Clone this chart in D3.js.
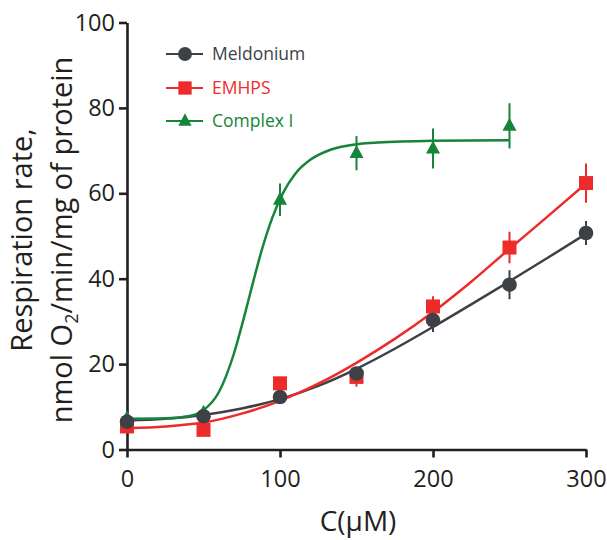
<!DOCTYPE html>
<html><head><meta charset="utf-8">
<script src="https://cdn.jsdelivr.net/npm/d3@7"></script>
<style>body{margin:0;background:#fff}</style>
</head><body><svg id="c" width="607" height="540"></svg>
<script>
const xTicks = [0, 100, 200, 300];
const yTicks = [0, 20, 40, 60, 80, 100];
const seriesNames = ["Meldonium", "EMHPS", "Complex I"];
const colors = ["#3d4145", "#ee2b2b", "#17843b"];

const concX = [0, 50, 100, 150, 200, 250, 300];
const meldoniumY = [6.5, 7.8, 12.3, 17.8, 30.3, 38.6, 50.7];
const meldoniumErr = [0.8, 0.8, 1.0, 1.5, 2.8, 3.4, 2.8];
const emhpsY = [5.4, 4.6, 15.5, 17.0, 33.5, 47.3, 62.4];
const emhpsErr = [0.8, 0.8, 1.0, 2.3, 2.4, 3.7, 4.6];
const complexX = [0, 50, 100, 150, 200, 250];
const complexY = [7.3, 8.6, 58.5, 69.4, 70.5, 75.8];
const complexErr = [0.8, 0.8, 3.8, 4.0, 4.7, 5.3];

// fitted curves
const meldFitX = [0, 25, 50, 75, 100, 125, 150, 175, 200, 225, 250, 275, 300];
const meldFitY = [6.8, 7.2, 8.1, 9.6, 11.8, 14.9, 18.9, 23.6, 28.7, 34.0, 39.4, 44.9, 50.5];
const emFitX = [0, 25, 50, 75, 100, 125, 150, 175, 200, 225, 250, 275, 300];
const emFitY = [5.0, 5.4, 6.3, 8.4, 11.4, 15.4, 20.3, 25.9, 32.2, 39.3, 47.0, 54.6, 62.3];
const cxFitX = [0, 25, 40, 50, 60, 70, 76, 82, 88, 95, 102, 110, 120, 133, 150, 175, 200, 250];
const cxFitY = [7.2, 7.3, 7.8, 9.2, 13.4, 22.6, 30.3, 38.6, 46.6, 54.3, 60.1, 64.6, 67.9, 70.2, 71.5, 72.1, 72.3, 72.45];

const svg = d3.select("#c");
const x = d3.scaleLinear().domain([0, 300]).range([127, 586]);
const y = d3.scaleLinear().domain([0, 100]).range([449.5, 22.5]);
const font = "'Open Sans', sans-serif";
const axisColor = "#231f20";

const xa = svg.append("g").attr("transform", "translate(0,449.5)")
  .call(d3.axisBottom(x).tickValues(xTicks).tickSize(8).tickSizeOuter(0).tickPadding(13));
const ya = svg.append("g").attr("transform", "translate(127,0)")
  .call(d3.axisLeft(y).tickValues(yTicks).tickSize(8).tickSizeOuter(0).tickPadding(4));
[xa, ya].forEach(a => {
  a.selectAll("path,line").attr("stroke", axisColor).attr("stroke-width", 2.6);
  a.selectAll("text").attr("font-family", font).attr("font-size", 23.5).attr("fill", axisColor);
});

svg.append("text").attr("x", 358).attr("y", 531).attr("text-anchor", "middle")
  .attr("font-family", font).attr("font-size", 28).attr("fill", axisColor).text("C(μM)");
const yt = svg.append("text").attr("transform", "translate(0,240) rotate(-90)")
  .attr("text-anchor", "middle").attr("font-family", font).attr("font-size", 29).attr("fill", axisColor);
yt.append("tspan").attr("x", 0).attr("y", 32).text("Respiration rate,");
const t2 = yt.append("tspan").attr("x", 0).attr("y", 72);
t2.append("tspan").text("nmol O");
t2.append("tspan").attr("font-size", 18).attr("dy", 6).text("2");
t2.append("tspan").attr("dy", -6).text("/min/mg of protein");

const line = d3.line().x(d => x(d[0])).y(d => y(d[1])).curve(d3.curveMonotoneX);
const groups = [
  {px: concX, py: meldoniumY, pe: meldoniumErr, fx: meldFitX, fy: meldFitY},
  {px: concX, py: emhpsY, pe: emhpsErr, fx: emFitX, fy: emFitY},
  {px: complexX, py: complexY, pe: complexErr, fx: cxFitX, fy: cxFitY}
];

function marker(g, i, cx, cy, s) {
  if (i === 0) g.append("circle").attr("cx", cx).attr("cy", cy).attr("r", 7.3 * s).attr("fill", colors[0]);
  else if (i === 1) g.append("rect").attr("x", cx - 7 * s).attr("y", cy - 7 * s).attr("width", 14 * s).attr("height", 14 * s).attr("fill", colors[1]);
  else {
    const h = 13 * s, w = 14 * s;
    g.append("path").attr("d", `M${cx},${cy - h * 0.62}L${cx + w / 2},${cy + h * 0.38}L${cx - w / 2},${cy + h * 0.38}Z`).attr("fill", colors[2]);
  }
}

// error bars
groups.forEach((gr, i) => {
  svg.append("g").selectAll("line").data(gr.px.map((v, k) => [v, gr.py[k], gr.pe[k]])).join("line")
    .attr("x1", d => x(d[0])).attr("x2", d => x(d[0]))
    .attr("y1", d => y(d[1] - d[2])).attr("y2", d => y(d[1] + d[2]))
    .attr("stroke", colors[i]).attr("stroke-width", 2);
});
// curves
groups.forEach((gr, i) => {
  svg.append("path").datum(gr.fx.map((v, k) => [v, gr.fy[k]])).attr("d", line)
    .attr("fill", "none").attr("stroke", colors[i]).attr("stroke-width", 2.5);
});
// markers
[2, 1, 0].forEach(i => {
  const gr = groups[i];
  const g = svg.append("g");
  gr.px.forEach((v, k) => marker(g, i, x(v), y(gr.py[k]), 1));
});

// legend
const legY = [54, 88, 121];
seriesNames.forEach((n, i) => {
  const g = svg.append("g");
  g.append("line").attr("x1", 166).attr("x2", 203).attr("y1", legY[i]).attr("y2", legY[i])
    .attr("stroke", colors[i]).attr("stroke-width", 2);
  marker(g, i, 185, legY[i], 0.95);
  g.append("text").attr("x", 212).attr("y", legY[i] + 6).attr("font-family", font)
    .attr("font-size", 17.5).attr("fill", colors[i]).text(n);
});
</script></body></html>
